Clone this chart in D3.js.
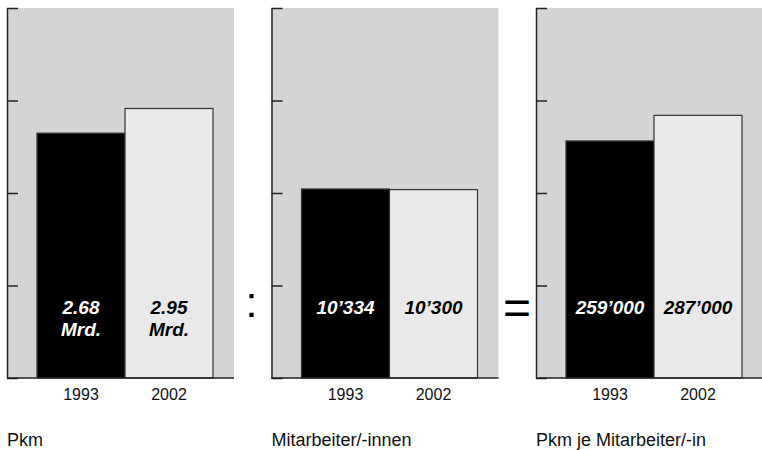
<!DOCTYPE html>
<html>
<head>
<meta charset="utf-8">
<script src="https://cdn.jsdelivr.net/npm/d3@7"></script>
<style>
  html, body { margin: 0; padding: 0; background: #fff; }
  svg { display: block; font-family: "Liberation Sans", Arial, Helvetica, sans-serif; }
</style>
</head>
<body>
<svg id="chart" width="762" height="450"></svg>
<script>
// ---- data ----
const years = ["1993", "2002"];
const panelTitles = ["Pkm", "Mitarbeiter/-innen", "Pkm je Mitarbeiter/-in"];
const pkmValues = [2.68, 2.95];
const staffValues = [10334, 10300];
const pkmPerStaffValues = [259000, 287000];
const pkmLabels = [["2.68", "Mrd."], ["2.95", "Mrd."]];
const staffLabels = [["10\u2019334"], ["10\u2019300"]];
const pkmPerStaffLabels = [["259\u2019000"], ["287\u2019000"]];
const axisMaxima = [4.05, 20230, 404300];
const operators = [":", "="];

const panels = [
  { title: panelTitles[0], values: pkmValues, labels: pkmLabels, max: axisMaxima[0] },
  { title: panelTitles[1], values: staffValues, labels: staffLabels, max: axisMaxima[1] },
  { title: panelTitles[2], values: pkmPerStaffValues, labels: pkmPerStaffLabels, max: axisMaxima[2] }
];

const svg = d3.select("#chart");
const plotTop = 8, plotBase = 378;
const panelW = 227;

const px = d3.scaleBand().domain(d3.range(3)).range([7, 7 + 3 * 264.5]);

panels.forEach((p, i) => {
  const g = svg.append("g").attr("transform", `translate(${px(i)},0)`);
  const w = i === 2 ? 762 - px(i) : panelW;
  const y = d3.scaleLinear().domain([0, p.max]).range([plotBase, plotTop]);
  const x = d3.scaleBand().domain(years).range([30, 206]);

  g.append("rect").attr("x", 0).attr("y", plotTop).attr("width", w).attr("height", plotBase - plotTop)
    .attr("fill", "#d4d4d4");

  g.selectAll(".bar").data(p.values).join("rect")
    .attr("class", "bar")
    .attr("x", (d, j) => x(years[j]))
    .attr("y", d => y(d))
    .attr("width", x.bandwidth())
    .attr("height", d => plotBase - y(d))
    .attr("fill", (d, j) => j === 0 ? "#000" : "#e9e9e9")
    .attr("stroke", "#333")
    .attr("stroke-width", 1.2);

  // value labels
  p.labels.forEach((lines, j) => {
    const cx = x(years[j]) + x.bandwidth() / 2;
    const t = g.append("text")
      .attr("x", cx)
      .attr("y", 314)
      .attr("text-anchor", "middle")
      .attr("font-size", 19)
      .attr("font-weight", "bold")
      .attr("font-style", "italic")
      .attr("fill", j === 0 ? "#fff" : "#000");
    lines.forEach((l, k) => {
      t.append("tspan").attr("x", cx).attr("dy", k === 0 ? 0 : 22).text(l);
    });
  });

  // y axis (ticks inward)
  const ticks = d3.range(5).map(k => p.max * k / 4);
  const ya = g.append("g").call(d3.axisRight(y).tickValues(ticks).tickSize(11).tickSizeOuter(0).tickFormat(""));
  ya.selectAll("path, line").attr("stroke", "#222").attr("stroke-width", 1.5);

  // baseline
  g.append("line").attr("x1", 0).attr("x2", w).attr("y1", plotBase).attr("y2", plotBase)
    .attr("stroke", "#222").attr("stroke-width", 1.5);

  // x labels
  const xa = g.append("g").attr("transform", `translate(0,${plotBase})`)
    .call(d3.axisBottom(x).tickSize(0).tickPadding(11));
  xa.select(".domain").remove();
  xa.attr("font-family", null).attr("font-size", null);
  xa.selectAll("text").attr("font-size", 16).attr("fill", "#111");

  // title
  g.append("text").attr("x", 0).attr("y", 446).attr("font-size", 18).attr("fill", "#111").text(p.title);
});

// operators
svg.append("text").attr("x", px(1) - 20).attr("y", 317).attr("text-anchor", "middle")
  .attr("font-size", 43).attr("fill", "#000").text(operators[0]);
svg.append("text").attr("x", px(2) - 19).attr("y", 324).attr("text-anchor", "middle")
  .attr("font-size", 48).attr("fill", "#000").text(operators[1]);
</script>
</body>
</html>
